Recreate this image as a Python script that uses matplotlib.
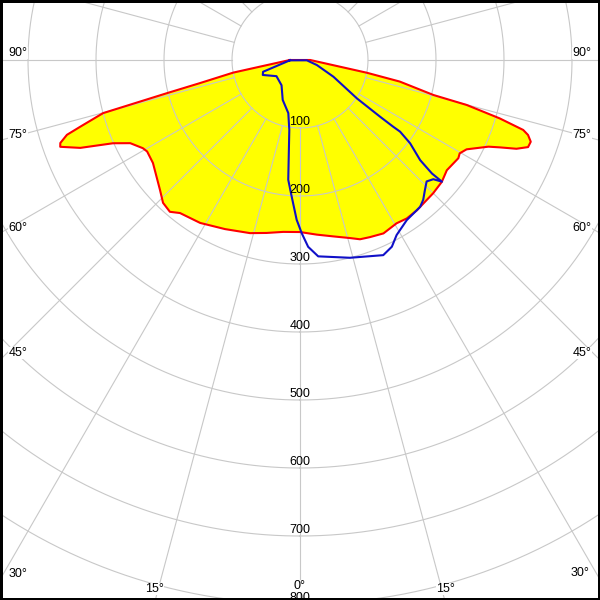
import numpy as np
import matplotlib
matplotlib.use("Agg")
import matplotlib.pyplot as plt
from matplotlib.patches import Rectangle

# C0-C180 plane (red outline, yellow fill); gamma in degrees, negative = left half
c0_gamma = [-90, -79.3, -77, -76, -74.9, -73.1, -72.2, -70.9, -70.1, -68.2, -66, -63.9,
            -60.7, -59.1, -55, -47.1, -43.8, -40.6, -38.1, -31.5, -23.9, -16.1, -10.9,
            -5.6, 0, 5.5, 10.7, 15.7, 18.5, 21.5, 25.7, 30.6, 34, 37.9, 45, 49.3, 53.1,
            56, 58.2, 59.7, 61.8, 65.3, 66.4, 67.7, 69.1, 70.5, 71.8, 72.6, 73.7, 74.9,
            75.3, 77.8, 79.2, 90]
c0_intensity = [15, 100, 151, 202, 300, 338, 360, 373, 375, 348, 301, 278,
                265, 262, 264, 281, 291, 294, 286, 281, 272, 265, 259,
                254, 253, 258, 264, 272, 278, 280, 283, 279, 281, 280, 277, 275, 270,
                272, 274, 272, 278, 305, 321, 344, 359, 360, 353, 344, 306, 254,
                203, 150, 100, 15]

# C90-C270 plane (blue outline)
c90_gamma = [-88, -72.3, -68.1, -55.5, -36.2, -23.4, -12.4, -8.7, -5.6, -3.5, -1.2, 0.6,
             2.5, 5.3, 14.2, 23.1, 26.2, 28.9, 33.7, 39.3, 41.4, 43.9, 46.2, 48.2, 49.4,
             49.3, 50.2, 52.9, 54.4, 54.4, 54.7, 56.0, 63.4, 73.3, 87.4]
c90_intensity = [15, 57, 59, 42, 46, 64, 80, 104, 177, 201, 235, 255,
                 275, 290, 300, 312, 306, 294, 283, 279, 274, 265, 258, 263, 275,
                 256, 230, 203, 181, 168, 144, 101, 55, 26, 10]

ring_values = [100, 200, 300, 400, 500, 600, 700, 800]
ring_labels = ["100", "200", "300", "400", "500", "600", "700", "800"]
spoke_angles = list(range(0, 360, 15))
angle_labels = ["90°", "75°", "60°", "45°", "30°", "15°", "0°"]

W = H = 600
fig = plt.figure(figsize=(6, 6), dpi=100)
fig.patch.set_facecolor("white")

RMAX = 1000
px_per_unit = 0.68
rad_px = RMAX * px_per_unit
cx, cy = 300, 60  # pixel position of polar origin (from top-left)
fw = rad_px / W
ax = fig.add_axes([cx / W - fw, (H - cy) / H - fw, 2 * fw, 2 * fw], projection="polar")
ax.set_theta_zero_location("S")
ax.set_theta_direction(1)
ax.set_ylim(0, RMAX)
ax.grid(False)
ax.set_xticks([])
ax.set_yticks([])
ax.spines["polar"].set_visible(False)
ax.patch.set_facecolor("white")

grid_col = "#c8c8c8"
th = np.linspace(0, 2 * np.pi, 1441)
for r in ring_values:
    ax.plot(th, np.full_like(th, r), color=grid_col, lw=0.8, zorder=2)
for a in spoke_angles:
    t = np.deg2rad(a)
    ax.plot([t, t], [100, RMAX], color=grid_col, lw=0.8, zorder=2)

t0 = np.deg2rad(c0_gamma)
ax.fill(t0, c0_intensity, color="#ffff00", zorder=1, lw=0)
ax.plot(np.append(t0, t0[0]), np.append(c0_intensity, c0_intensity[0]),
        color="#ff0000", lw=1.5, zorder=3)

t90 = np.deg2rad(c90_gamma)
ax.plot(np.append(t90, t90[0]), np.append(c90_intensity, c90_intensity[0]),
        color="#1010c8", lw=1.5, zorder=4)

FS = 9
for r, lab in zip(ring_values, ring_labels):
    ax.annotate(lab, xy=(0, r), xytext=(0, 6), textcoords="offset pixels",
                ha="center", va="center", fontsize=FS, family="Liberation Sans",
                color="black", zorder=5)

# angle labels positions (pixels, from top-left)
left_pos = [(18, 53), (18, 135), (18, 228), (18, 353), (18, 574), (154.5, 589)]
right_pos = [(582, 53), (582, 135), (582, 228), (582, 353), (580, 573), (445.5, 589)]
for lab, (x, y) in zip(angle_labels[:6], left_pos):
    fig.text(x / W, 1 - y / H, lab, ha="center", va="center", fontsize=FS,
             family="Liberation Sans", zorder=6,
             bbox=dict(facecolor="white", edgecolor="none", pad=0.3))
for lab, (x, y) in zip(angle_labels[:6], right_pos):
    fig.text(x / W, 1 - y / H, lab, ha="center", va="center", fontsize=FS,
             family="Liberation Sans", zorder=6,
             bbox=dict(facecolor="white", edgecolor="none", pad=0.3))
fig.text(300 / W, 1 - 586 / H, angle_labels[6], ha="center", va="center", fontsize=FS,
         family="Liberation Sans", zorder=6,
         bbox=dict(facecolor="white", edgecolor="none", pad=0.3))

fig.add_artist(Rectangle((0, 0), 1, 1, transform=fig.transFigure, fill=False,
                         lw=3.6, ec="black", clip_on=False, zorder=10))

fig.savefig("out.png", dpi=100)
